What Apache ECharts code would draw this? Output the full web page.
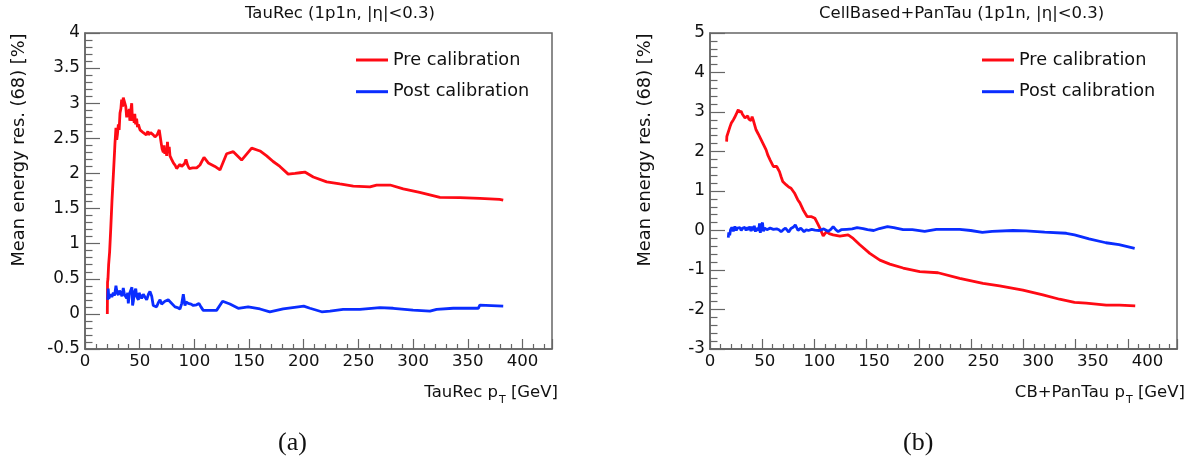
<!DOCTYPE html>
<html><head><meta charset="utf-8">
<script src="https://cdn.jsdelivr.net/npm/echarts@6/dist/echarts.min.js"></script>
<style>html,body{margin:0;padding:0;background:#fff}#c{width:1195px;height:459px}</style>
</head><body><div id="c"></div>
<script>
// ---------- data ----------
const seriesNames = ['Pre calibration', 'Post calibration'];
const panelTitles = ['TauRec (1p1n, |η|<0.3)', 'CellBased+PanTau (1p1n, |η|<0.3)'];
const panelTags = ['(a)', '(b)'];
const xTitleMain = ['TauRec p', 'CB+PanTau p'];
const xTitleSub = 'T';
const xTitleUnit = ' [GeV]';
const yTitle = 'Mean energy res. (68) [%]';
const xRange = [0, 427];
const xTickInterval = 50;
const xTickRangeB = [0, 447];
const yRangeA = [-0.5, 4];
const yIntervalA = 0.5;
const yRangeB = [-3, 5];
const yIntervalB = 1;

const tauRecPre = [[20.4,0.0],[20.6,0.45],[21.0,0.5],[21.6,0.7],[22.5,0.88],[23.5,1.2],[24.7,1.62],[26.0,2.0],[27.0,2.3],[27.4,2.43],[28.3,2.65],[29.0,2.48],[29.6,2.55],[30.5,2.7],[31.2,2.62],[32.0,2.86],[32.8,2.92],[33.5,3.05],[34.4,2.95],[35.0,3.08],[35.6,3.06],[36.6,3.1],[37.3,2.95],[38.1,2.8],[38.8,2.9],[39.6,2.82],[40.4,2.92],[41.0,2.75],[41.8,2.88],[42.7,3.0],[43.4,2.75],[44.2,2.82],[45.0,2.72],[45.5,2.85],[46.3,2.7],[47.2,2.78],[48.0,2.66],[48.8,2.7],[50.3,2.62],[52.0,2.6],[53.3,2.58],[55.0,2.6],[56.0,2.55],[57.5,2.6],[58.0,2.55],[60.0,2.58],[62.4,2.55],[64.0,2.52],[66.0,2.55],[67.9,2.62],[69.5,2.45],[70.5,2.35],[71.6,2.3],[72.3,2.4],[73.0,2.28],[73.8,2.36],[74.7,2.25],[75.4,2.45],[76.1,2.3],[77.0,2.38],[77.7,2.25],[79.2,2.2],[80.8,2.15],[82.3,2.12],[83.8,2.07],[85.3,2.1],[86.8,2.13],[88.3,2.1],[89.9,2.08],[91.0,2.14],[92.3,2.2],[93.8,2.12],[95.3,2.07],[98.5,2.08],[102.1,2.08],[105.1,2.12],[108.8,2.23],[112.7,2.15],[118.8,2.1],[123.4,2.05],[129.5,2.28],[135.6,2.31],[143.2,2.19],[152.4,2.36],[160,2.32],[166.1,2.25],[172,2.17],[178.2,2.1],[185.8,1.99],[192,2.0],[196.5,2.01],[201,2.02],[208.7,1.95],[221,1.88],[233,1.85],[245.3,1.82],[260.5,1.81],[266.6,1.835],[279,1.835],[291,1.78],[306,1.73],[324.5,1.66],[342.8,1.655],[361,1.646],[379,1.63],[382.4,1.62]];

const tauRecPost = [[20.8,0.2],[21.2,0.36],[21.8,0.22],[23.4,0.28],[24.5,0.24],[25.9,0.3],[27.0,0.26],[28.3,0.4],[29.3,0.3],[30.5,0.27],[31.5,0.33],[32.6,0.3],[33.8,0.25],[35,0.37],[36.0,0.28],[36.6,0.26],[38.1,0.22],[39.0,0.3],[39.6,0.15],[40.5,0.28],[41.7,0.3],[42.9,0.38],[43.5,0.12],[44.2,0.18],[45.0,0.3],[45.7,0.28],[46.4,0.36],[47.2,0.25],[48.8,0.2],[49.5,0.3],[50.3,0.27],[51.8,0.22],[53.3,0.28],[54.8,0.24],[56.4,0.2],[58,0.28],[59.4,0.32],[61,0.25],[62.4,0.12],[64,0.13],[65.5,0.1],[67,0.16],[68.6,0.2],[70,0.14],[71.5,0.15],[73.1,0.18],[76.1,0.2],[78,0.17],[79.2,0.15],[82.3,0.1],[84.5,0.09],[86.8,0.07],[88.5,0.15],[89.9,0.28],[91.4,0.12],[92.5,0.17],[94.4,0.15],[97,0.14],[99,0.12],[102,0.13],[104.2,0.15],[106,0.1],[108.1,0.05],[114.2,0.05],[120.3,0.05],[125.8,0.18],[132.5,0.14],[140.1,0.08],[149.2,0.1],[160,0.07],[169,0.03],[181.2,0.07],[195,0.1],[200,0.11],[205.7,0.08],[216.4,0.03],[224,0.04],[236,0.065],[251.4,0.065],[269.7,0.09],[281.8,0.08],[300,0.055],[315.4,0.04],[321.5,0.065],[336.7,0.08],[359.6,0.08],[361,0.125],[382.4,0.11]];

const cbPre = [[15.2,2.25],[15.4,2.38],[16.5,2.4],[18.3,2.63],[19.5,2.72],[21.3,2.8],[22.5,2.86],[24.4,2.97],[25.2,2.92],[25.9,3.06],[26.6,3.0],[27.4,2.97],[28.5,3.02],[29.5,2.95],[30.8,2.9],[32,2.85],[33.5,2.8],[34.5,2.9],[35.5,2.82],[36.5,2.86],[37.5,2.78],[38.5,2.88],[39.5,2.8],[42.1,2.55],[44,2.45],[46.7,2.3],[48.5,2.2],[51.3,2.04],[53,1.9],[54.9,1.79],[56.5,1.7],[57.9,1.62],[61,1.62],[63.5,1.49],[65,1.36],[66.5,1.24],[69.5,1.16],[72,1.1],[74.1,1.07],[77.2,0.95],[80.2,0.78],[82.2,0.7],[85.2,0.52],[88.9,0.35],[92.9,0.35],[95.9,0.31],[98,0.2],[100.5,0.06],[103.5,-0.14],[106.5,-0.03],[109,-0.08],[112.6,-0.11],[118.7,-0.14],[126.3,-0.11],[130.9,-0.2],[137,-0.36],[146.1,-0.58],[155.3,-0.75],[164.4,-0.85],[176.6,-0.95],[191.8,-1.04],[208.5,-1.07],[228.3,-1.21],[249.6,-1.34],[264.8,-1.4],[286.1,-1.51],[304.4,-1.63],[319.6,-1.74],[333.3,-1.82],[344,-1.84],[362.3,-1.89],[374.4,-1.89],[388.8,-1.91]];

const cbPost = [[16.7,-0.18],[17.2,-0.05],[18.0,-0.12],[18.8,0.02],[20,0.08],[21.3,-0.02],[22.8,0.1],[24,0.0],[25,0.06],[26,0.03],[27.5,0.07],[28.5,0.0],[30,0.06],[31,0.02],[32,0.08],[33,0.0],[34,0.08],[35.5,0.02],[36.5,0.1],[37.5,-0.02],[38.5,0.1],[39.5,0.0],[40.5,0.12],[41.5,-0.03],[42.5,0.06],[43.5,0.1],[44.5,0.0],[45.3,0.18],[46,-0.06],[47,0.14],[48,0.2],[48.8,-0.02],[50,0.06],[52,0.02],[55,0.06],[58,0.03],[61,0.04],[63,0.02],[65,-0.03],[67,0.02],[69,0.06],[70.5,0.1],[72,-0.04],[74,0.05],[76,0.08],[78,0.14],[79.2,0.1],[80.5,0.0],[83,0.06],[86,-0.03],[88,0.02],[90,0.0],[93,0.03],[96,0.01],[100,0.0],[104,0.04],[108,-0.02],[110.5,0.03],[112.6,0.1],[115,0.02],[117.2,-0.03],[120,0.02],[125,0.03],[130,0.04],[134.5,0.07],[140,0.05],[144,0.02],[149.7,0.0],[155,0.05],[162.3,0.1],[168,0.07],[176.6,0.02],[185,0.02],[196.3,-0.02],[207,0.03],[228.3,0.03],[238.4,0.0],[249,-0.05],[258,-0.02],[277,0.0],[289,-0.01],[306,-0.04],[325.8,-0.07],[333.3,-0.11],[346.6,-0.21],[362,-0.31],[374,-0.36],[388.3,-0.45]];

// ---------- styling ----------
const FONT = 'DejaVu Sans';
const TXT = '#111';
const FRAME = '#666';
const RED = '#ff0a14';
const BLUE = '#0a2dff';

const chart = echarts.init(document.getElementById('c'), null, {renderer: 'canvas'});

function xNameRich() {
  return {
    a: {fontFamily: FONT, fontSize: 16.5, lineHeight: 20, color: TXT, verticalAlign: 'top'},
    s: {fontFamily: FONT, fontSize: 11, lineHeight: 12, color: TXT, verticalAlign: 'top', padding: [11, 0, 0, 1]}
  };
}
function xAxisCfg(grid, idx, showLabels, showTicks, range, withName) {
  const ax = {
    gridIndex: grid, type: 'value', position: 'bottom', offset: 0,
    min: range[0], max: range[1], interval: xTickInterval,
    axisLine: {show: true, onZero: false, lineStyle: {color: FRAME, width: 1.5}},
    axisTick: {show: showTicks, inside: true, length: 10, lineStyle: {color: FRAME, width: 1.2}},
    minorTick: {show: showTicks, splitNumber: 5, length: 5, lineStyle: {color: FRAME, width: 1.2}},
    axisLabel: {show: showLabels, margin: 4, showMaxLabel: false, fontFamily: FONT, fontSize: 16.6, color: TXT},
    splitLine: {show: false}, minorSplitLine: {show: false}
  };
  if (withName) {
    ax.name = '{a|' + xTitleMain[idx] + '}{s|' + xTitleSub + '}{a|' + xTitleUnit + '}';
    ax.nameLocation = 'end';
    ax.nameGap = idx === 0 ? 6 : 8;
    ax.nameMoveOverlap = false;
    ax.nameTextStyle = {align: 'right', verticalAlign: 'top', padding: [35, 0, 0, 0], rich: xNameRich()};
  }
  return ax;
}
function yAxisCfg(grid, range, interval) {
  return {
    gridIndex: grid, type: 'value', position: 'left',
    min: range[0], max: range[1], interval: interval,
    axisLine: {show: true, onZero: false, lineStyle: {color: FRAME, width: 1.5}},
    axisTick: {show: true, inside: true, length: 15, lineStyle: {color: FRAME, width: 1.2}},
    minorTick: {show: true, splitNumber: 5, length: 7.5, lineStyle: {color: FRAME, width: 1.2}},
    axisLabel: {margin: 5, fontFamily: FONT, fontSize: 16.8, color: TXT},
    splitLine: {show: false}, minorSplitLine: {show: false},
    name: yTitle, nameLocation: 'middle', nameGap: grid === 0 ? 56 : 55, nameMoveOverlap: false,
    nameTextStyle: {fontFamily: FONT, fontSize: 17.8, lineHeight: 20, color: TXT, padding: [0, 0, 0, 82]}
  };
}
function lineSeries(name, data, xi, yi, color) {
  return {
    name: name, type: 'line', xAxisIndex: xi, yAxisIndex: yi, data: data,
    showSymbol: false, symbol: 'none', smooth: false, clip: true,
    lineStyle: {color: color, width: 2.8}, itemStyle: {color: color},
    emphasis: {disabled: true}, silent: true, animation: false
  };
}
function legendCfg(left) {
  return {
    data: seriesNames, left: left, top: 50, orient: 'vertical', padding: 0,
    icon: 'rect', itemWidth: 32, itemHeight: 3, itemGap: 11.7, selectedMode: false,
    textStyle: {fontFamily: FONT, fontSize: 17.7, lineHeight: 20, color: TXT}
  };
}
const titleStyle = {fontFamily: FONT, fontSize: 16.5, lineHeight: 20, fontWeight: 'normal', color: TXT};
const tagStyle = {fontFamily: 'Liberation Serif', fontSize: 26, lineHeight: 30, fontWeight: 'normal', color: TXT};

chart.setOption({
  backgroundColor: '#fff',
  animation: false,
  title: [
    {text: panelTitles[0], left: 245, top: 4, padding: 0, textStyle: titleStyle},
    {text: panelTitles[1], left: 819, top: 4, padding: 0, textStyle: titleStyle},
    {text: panelTags[0], left: 278, top: 428, padding: 0, textStyle: tagStyle},
    {text: panelTags[1], left: 903, top: 428, padding: 0, textStyle: tagStyle}
  ],
  legend: [legendCfg(356), legendCfg(982)],
  grid: [
    {left: 85, top: 33, width: 467, height: 316, show: true, borderColor: FRAME, borderWidth: 1.5, backgroundColor: 'transparent', outerBoundsMode: 'none', containLabel: false},
    {left: 710, top: 33, width: 467, height: 316, show: true, borderColor: FRAME, borderWidth: 1.5, backgroundColor: 'transparent', outerBoundsMode: 'none', containLabel: false}
  ],
  xAxis: [
    xAxisCfg(0, 0, true, true, xRange, true),
    xAxisCfg(1, 1, true, false, xRange, true),
    xAxisCfg(1, 1, false, true, xTickRangeB, false)
  ],
  yAxis: [yAxisCfg(0, yRangeA, yIntervalA), yAxisCfg(1, yRangeB, yIntervalB)],
  series: [
    lineSeries(seriesNames[0], tauRecPre, 0, 0, RED),
    lineSeries(seriesNames[1], tauRecPost, 0, 0, BLUE),
    lineSeries(seriesNames[0], cbPre, 1, 1, RED),
    lineSeries(seriesNames[1], cbPost, 1, 1, BLUE)
  ]
});
</script></body></html>
